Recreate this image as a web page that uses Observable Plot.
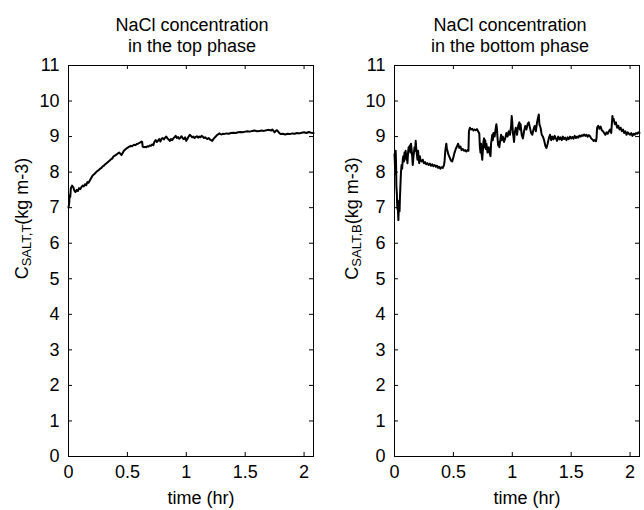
<!DOCTYPE html>
<html>
<head>
<meta charset="utf-8">
<script src="https://cdn.jsdelivr.net/npm/d3@7"></script>
<script src="https://cdn.jsdelivr.net/npm/@observablehq/plot@0.6"></script>
<style>
  html, body { margin: 0; padding: 0; background: white; }
  #chart { display: flex; width: 644px; height: 510px; }
</style>
</head>
<body>
<div id="chart"></div>
<script>
// ---- data ----
const xTicks = [0, 0.5, 1, 1.5, 2];
const yTicks = [0, 1, 2, 3, 4, 5, 6, 7, 8, 9, 10, 11];
const xDomain = [0, 2.08];
const yDomain = [0, 11];

const titleTop = "NaCl concentration\nin the top phase";
const titleBottom = "NaCl concentration\nin the bottom phase";
const xLabel = "time (hr)";
const yLabelMain = "C";
const yLabelSubTop = "SALT,T";
const yLabelSubBottom = "SALT,B";
const yLabelUnit = "(kg m-3)";

const topTime = [0,0.005,0.01,0.015,0.02,0.03,0.04,0.05,0.06,0.07,0.08,0.09,0.1,0.11,0.12,0.13,0.14,0.15,0.16,0.17,0.18,0.19,0.2,0.21,0.22,0.23,0.24,0.25,0.26,0.27,0.28,0.29,0.3,0.31,0.32,0.33,0.34,0.35,0.36,0.37,0.38,0.39,0.4,0.41,0.42,0.43,0.44,0.45,0.46,0.47,0.48,0.49,0.5,0.51,0.52,0.53,0.54,0.55,0.56,0.57,0.58,0.59,0.6,0.61,0.62,0.625,0.63,0.64,0.65,0.66,0.67,0.68,0.69,0.7,0.71,0.72,0.73,0.74,0.75,0.76,0.77,0.78,0.79,0.8,0.81,0.82,0.83,0.84,0.85,0.86,0.87,0.88,0.89,0.9,0.91,0.92,0.93,0.94,0.95,0.96,0.97,0.98,0.99,1.0,1.01,1.02,1.03,1.04,1.05,1.06,1.07,1.08,1.09,1.1,1.11,1.12,1.13,1.14,1.15,1.16,1.17,1.18,1.19,1.2,1.21,1.22,1.23,1.24,1.25,1.26,1.27,1.28,1.29,1.3,1.31,1.32,1.34,1.36,1.38,1.4,1.42,1.44,1.46,1.48,1.5,1.52,1.54,1.56,1.58,1.6,1.62,1.64,1.66,1.68,1.7,1.72,1.73,1.74,1.75,1.76,1.77,1.78,1.79,1.8,1.82,1.84,1.86,1.88,1.9,1.92,1.94,1.96,1.98,2.0,2.02,2.04,2.06,2.08];
const topConc = [7.00,7.10,7.35,7.30,7.55,7.62,7.58,7.48,7.44,7.50,7.47,7.55,7.52,7.58,7.62,7.60,7.66,7.63,7.72,7.70,7.76,7.82,7.88,7.92,7.95,7.98,8.02,8.04,8.07,8.10,8.12,8.16,8.18,8.22,8.24,8.27,8.30,8.33,8.36,8.38,8.43,8.46,8.48,8.50,8.53,8.55,8.52,8.48,8.54,8.60,8.63,8.66,8.68,8.71,8.72,8.74,8.73,8.76,8.77,8.76,8.79,8.80,8.82,8.84,8.86,8.85,8.72,8.70,8.71,8.70,8.73,8.72,8.75,8.74,8.78,8.76,8.86,8.90,8.85,8.88,8.93,8.86,8.94,8.96,8.92,8.97,9.00,8.95,8.92,8.88,8.93,8.90,8.95,8.98,9.02,8.96,8.99,8.94,8.97,9.01,8.95,8.93,8.98,8.88,8.94,9.00,9.05,9.02,8.98,9.00,8.96,8.99,9.01,8.97,9.00,8.98,9.02,9.00,8.96,8.98,8.95,8.93,8.96,8.92,8.90,8.88,8.93,8.97,9.00,9.04,9.06,9.09,9.07,9.06,9.08,9.07,9.09,9.08,9.10,9.11,9.10,9.12,9.13,9.12,9.14,9.15,9.14,9.16,9.17,9.15,9.16,9.17,9.16,9.18,9.19,9.17,9.20,9.16,9.12,9.16,9.18,9.14,9.10,9.07,9.08,9.06,9.08,9.07,9.09,9.08,9.10,9.09,9.11,9.12,9.10,9.13,9.11,9.10];

const bottomTime = [0,0.004,0.008,0.01,0.013,0.016,0.02,0.023,0.026,0.028,0.03,0.033,0.036,0.04,0.043,0.046,0.05,0.055,0.06,0.065,0.07,0.075,0.08,0.085,0.09,0.095,0.1,0.105,0.11,0.115,0.12,0.125,0.13,0.135,0.14,0.145,0.15,0.155,0.16,0.165,0.17,0.175,0.18,0.185,0.19,0.195,0.2,0.205,0.21,0.215,0.22,0.23,0.24,0.25,0.26,0.27,0.28,0.29,0.3,0.31,0.32,0.33,0.34,0.35,0.36,0.37,0.38,0.39,0.4,0.41,0.42,0.425,0.43,0.435,0.44,0.445,0.45,0.455,0.46,0.47,0.48,0.49,0.5,0.51,0.52,0.53,0.54,0.545,0.55,0.56,0.57,0.58,0.59,0.6,0.61,0.62,0.628,0.632,0.64,0.65,0.66,0.67,0.68,0.69,0.7,0.71,0.72,0.725,0.73,0.735,0.74,0.745,0.75,0.755,0.76,0.765,0.77,0.775,0.78,0.79,0.8,0.81,0.815,0.82,0.83,0.835,0.84,0.85,0.86,0.865,0.87,0.875,0.88,0.885,0.89,0.9,0.905,0.91,0.92,0.93,0.94,0.95,0.96,0.97,0.98,0.99,0.995,1.0,1.005,1.01,1.015,1.02,1.03,1.04,1.05,1.06,1.065,1.07,1.08,1.09,1.1,1.11,1.12,1.13,1.14,1.15,1.16,1.17,1.18,1.19,1.2,1.21,1.22,1.225,1.23,1.24,1.25,1.26,1.27,1.28,1.29,1.3,1.31,1.32,1.33,1.34,1.35,1.36,1.37,1.38,1.39,1.4,1.41,1.42,1.43,1.44,1.45,1.46,1.47,1.48,1.49,1.5,1.51,1.52,1.53,1.54,1.55,1.56,1.57,1.58,1.59,1.6,1.61,1.62,1.63,1.64,1.65,1.66,1.67,1.68,1.69,1.7,1.71,1.715,1.72,1.73,1.74,1.75,1.76,1.77,1.78,1.79,1.8,1.81,1.82,1.83,1.84,1.845,1.85,1.855,1.86,1.87,1.88,1.89,1.9,1.91,1.92,1.93,1.94,1.95,1.96,1.97,1.98,1.99,2.0,2.01,2.02,2.03,2.04,2.05,2.06,2.07,2.08];
const bottomConc = [8.50,8.20,7.95,8.60,8.30,7.60,7.40,7.05,6.95,7.20,6.85,6.65,6.95,7.10,6.90,7.25,7.60,8.00,8.20,8.10,8.35,8.45,8.30,8.55,8.40,8.60,8.35,8.50,8.25,8.55,8.70,8.60,8.75,8.55,8.80,8.65,8.45,8.20,8.40,8.55,8.70,8.60,8.88,8.65,8.50,8.35,8.60,8.40,8.25,8.45,8.35,8.30,8.35,8.25,8.28,8.22,8.25,8.20,8.24,8.18,8.22,8.17,8.20,8.15,8.18,8.12,8.15,8.10,8.14,8.12,8.20,8.30,8.55,8.70,8.80,8.65,8.60,8.52,8.48,8.40,8.32,8.30,8.42,8.55,8.65,8.72,8.80,8.75,8.68,8.72,8.62,8.65,8.60,8.62,8.58,8.62,8.60,9.15,9.25,9.20,9.22,9.17,9.20,9.18,9.21,9.15,9.08,8.70,8.55,8.80,8.50,8.35,8.60,8.85,8.95,8.70,8.90,8.65,8.80,8.55,8.70,8.50,8.45,8.80,9.05,8.90,9.10,9.00,9.25,9.35,9.20,8.95,8.75,8.85,8.70,8.95,9.05,8.90,9.00,8.85,8.95,9.10,9.00,9.15,9.05,9.30,9.58,9.40,9.10,9.00,8.85,9.10,9.25,9.05,9.30,9.40,9.20,9.35,9.05,8.95,9.15,9.30,9.20,9.35,9.40,9.25,9.10,9.05,9.20,9.30,9.15,9.40,9.55,9.62,9.35,9.25,9.05,9.00,8.90,8.75,8.68,8.80,8.95,9.05,8.90,9.00,8.92,9.02,8.95,8.88,9.00,8.92,8.98,8.90,9.00,8.93,8.97,8.90,8.98,8.93,9.00,8.95,8.99,8.94,9.02,8.96,9.00,8.97,9.03,9.00,9.04,9.02,9.06,9.02,9.05,9.00,9.04,9.01,8.95,8.92,8.88,8.90,8.87,8.95,9.25,9.30,9.22,9.28,9.18,9.15,9.10,9.05,9.12,9.08,9.15,9.20,9.10,9.35,9.58,9.45,9.50,9.35,9.40,9.25,9.30,9.20,9.25,9.15,9.20,9.10,9.15,9.05,9.12,9.08,9.05,9.10,9.02,9.08,9.05,9.10,9.08,9.12,9.10];

// ---- drawing ----
const FONT = "'Liberation Sans', Arial, Helvetica, sans-serif";

function panel({time, conc, title, sub, marginLeft, marginRight, titleDx, labelDx, yLabelX}) {
  const width = 322, height = 510, marginTop = 65, marginBottom = 54;
  const innerW = width - marginLeft - marginRight;
  const innerH = height - marginTop - marginBottom;
  const data = time.map((t, i) => ({t, c: conc[i]}));
  const tickLen = 4;
  const svg = Plot.plot({
    width, height, marginLeft, marginRight, marginTop, marginBottom,
    style: {fontFamily: FONT, fontSize: "18px", background: "white", color: "black", overflow: "visible"},
    x: {domain: xDomain},
    y: {domain: yDomain},
    marks: [
      Plot.line(data, {x: "t", y: "c", stroke: "black", strokeWidth: 2}),
      Plot.frame({stroke: "black", strokeWidth: 1}),
      Plot.tickX(xTicks, {x: d => d, insetTop: innerH - tickLen, stroke: "black"}),
      Plot.tickX(xTicks, {x: d => d, insetBottom: innerH - tickLen, stroke: "black"}),
      Plot.tickY(yTicks, {y: d => d, insetRight: innerW - tickLen, stroke: "black"}),
      Plot.tickY(yTicks, {y: d => d, insetLeft: innerW - tickLen, stroke: "black"}),
      Plot.axisX({ticks: xTicks, tickSize: 0, tickPadding: 9, label: null, fontSize: 18, tickFormat: d => String(d)}),
      Plot.axisY({ticks: yTicks, tickSize: 0, tickPadding: 9, label: null, fontSize: 18, tickFormat: d => String(d)}),
      Plot.text([title], {text: d => d, frameAnchor: "top", lineAnchor: "top", dy: -49.8, dx: titleDx, lineHeight: 21 / 18, fontSize: 18, fill: "black"}),
      Plot.text([xLabel], {text: d => d, frameAnchor: "bottom", lineAnchor: "middle", dy: 42, dx: labelDx, fontSize: 18, fill: "black"})
    ]
  });
  const t = d3.select(svg).append("text")
    .attr("transform", `translate(${yLabelX},218.5) rotate(-90)`)
    .attr("text-anchor", "middle")
    .attr("font-family", FONT)
    .attr("font-size", 18)
    .attr("fill", "black");
  t.append("tspan").text(yLabelMain);
  t.append("tspan").attr("font-size", 13).attr("dy", 3).text(sub);
  t.append("tspan").attr("dy", -3).text(yLabelUnit);
  return svg;
}

const chart = document.getElementById("chart");
chart.appendChild(panel({time: topTime, conc: topConc, title: titleTop, sub: yLabelSubTop,
  marginLeft: 68, marginRight: 9, titleDx: 1, labelDx: 10, yLabelX: 28}));
chart.appendChild(panel({time: bottomTime, conc: bottomConc, title: titleBottom, sub: yLabelSubBottom,
  marginLeft: 72, marginRight: 5, titleDx: -7, labelDx: 10, yLabelX: 36}));
</script>
</body>
</html>
